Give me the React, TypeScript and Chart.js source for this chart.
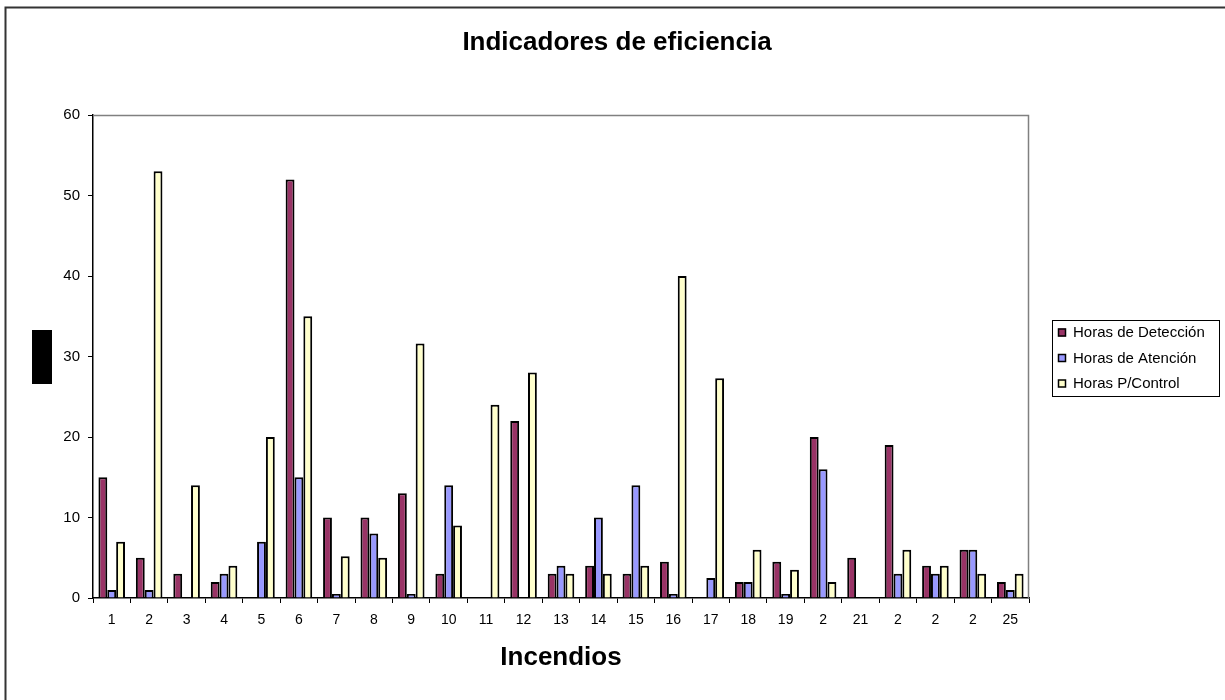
import React, { useEffect, useRef } from "react";
import { Chart, registerables } from "chart.js";

Chart.register(...registerables);

const categories = [
  "1", "2", "3", "4", "5", "6", "7", "8", "9", "10", "11", "12", "13",
  "14", "15", "16", "17", "18", "19", "2", "21", "2", "2", "2", "25",
];
const seriesNames = ["Horas de Detección", "Horas de Atención", "Horas P/Control"];
const seriesColors = ["#993366", "#9999FF", "#FFFFCC"];
const deteccion = [15, 5, 3, 2, 0, 52, 10, 10, 13, 3, 0, 22, 3, 4, 3, 4.5, 0, 2, 4.5, 20, 5, 19, 4, 6, 2];
const atencion = [1, 1, 0, 3, 7, 15, 0.5, 8, 0.5, 14, 0, 0, 4, 10, 14, 0.5, 2.5, 2, 0.5, 16, 0, 3, 3, 6, 1];
const control = [7, 53, 14, 4, 20, 35, 5.2, 5, 31.6, 9, 24, 28, 3, 3, 4, 40, 27.3, 6, 3.5, 2, 0, 6, 4, 3, 3];
const yMin = 0;
const yMax = 60;
const yStep = 10;
const chartTitle = "Indicadores de eficiencia";
const xTitle = "Incendios";

const FONT = "'Liberation Sans', Arial, Helvetica, sans-serif";

const decorPlugin = {
  id: "decor",
  afterDraw(chart: any) {
    const { ctx, chartArea: ca } = chart;
    ctx.save();
    // outer frame (left + top visible)
    ctx.strokeStyle = "#333333";
    ctx.lineWidth = 2;
    ctx.beginPath();
    ctx.moveTo(5.5, 700);
    ctx.lineTo(5.5, 7.5);
    ctx.lineTo(1225, 7.5);
    ctx.stroke();

    // plot area top/right border
    ctx.strokeStyle = "#808080";
    ctx.lineWidth = 1.5;
    ctx.beginPath();
    ctx.moveTo(ca.left, ca.top + 0.5);
    ctx.lineTo(ca.right - 0.5, ca.top + 0.5);
    ctx.lineTo(ca.right - 0.5, ca.bottom);
    ctx.stroke();

    // black block where the y-axis title sits
    ctx.fillStyle = "#000000";
    ctx.fillRect(32, 330, 20, 54);

    // legend
    ctx.strokeStyle = "#000000";
    ctx.lineWidth = 1;
    ctx.strokeRect(1052.5, 320.5, 167, 76);
    ctx.font = `15px ${FONT}`;
    ctx.textBaseline = "middle";
    ctx.textAlign = "left";
    chart.data.datasets.forEach((ds: any, i: number) => {
      const cy = 332.5 + i * 25.5;
      ctx.fillStyle = ds.backgroundColor;
      ctx.fillRect(1058, cy - 4, 8, 8);
      ctx.strokeStyle = "#000000";
      ctx.lineWidth = 1.5;
      ctx.strokeRect(1058.5, cy - 3.5, 7, 7);
      ctx.fillStyle = "#000000";
      ctx.fillText(ds.label, 1073, cy + 0.5);
    });
    ctx.restore();
  },
};

export default function App() {
  const ref = useRef<HTMLCanvasElement | null>(null);

  useEffect(() => {
    if (!ref.current) return;
    Chart.defaults.font.family = FONT;
    Chart.defaults.color = "#000000";
    const values = [deteccion, atencion, control];
    const chart = new Chart(ref.current, {
      type: "bar",
      data: {
        labels: categories,
        datasets: seriesNames.map((name, i) => ({
          label: name,
          data: values[i],
          backgroundColor: seriesColors[i],
          borderColor: "#000000",
          borderWidth: 2,
          categoryPercentage: 0.71,
          barPercentage: 1,
        })),
      },
      options: {
        responsive: false,
        animation: false,
        layout: { padding: { left: 9, right: 0, top: 0, bottom: 0 } },
        plugins: {
          legend: { display: false },
          tooltip: { enabled: false },
          title: {
            display: true,
            text: chartTitle,
            color: "#000000",
            font: { size: 26, weight: "bold", family: FONT },
            padding: { top: 27, bottom: 56.8 },
          },
        },
        scales: {
          x: {
            type: "category",
            offset: true,
            grid: {
              offset: true,
              drawOnChartArea: false,
              drawTicks: true,
              tickLength: 5,
              color: "#000000",
            },
            border: { display: true, color: "#000000", width: 1.5 },
            ticks: {
              autoSkip: false,
              maxRotation: 0,
              minRotation: 0,
              padding: 9,
              color: "#000000",
              font: { size: 14, family: FONT },
            },
            title: {
              display: true,
              text: xTitle,
              color: "#000000",
              font: { size: 26, weight: "bold", family: FONT },
              padding: { top: 0, bottom: 27 },
            },
            afterFit(scale: any) {
              scale.height = 102;
            },
          },
          y: {
            type: "linear",
            min: yMin,
            max: yMax,
            position: "left",
            grid: {
              drawOnChartArea: false,
              drawTicks: true,
              tickLength: 5,
              color: "#000000",
            },
            border: { display: true, color: "#000000", width: 1.5 },
            ticks: {
              stepSize: yStep,
              padding: 8,
              color: "#000000",
              font: { size: 15, family: FONT },
            },
            afterFit(scale: any) {
              scale.width = 84;
            },
          },
          yR: {
            type: "linear",
            position: "right",
            display: true,
            grid: { display: false, drawTicks: false },
            border: { display: false },
            ticks: { display: false },
            afterFit(scale: any) {
              scale.width = 196;
            },
          },
        },
      },
      plugins: [decorPlugin],
    });
    return () => chart.destroy();
  }, []);

  return (
    <div style={{ position: "absolute", left: 0, top: 0, width: 1225, height: 700, background: "#ffffff" }}>
      <canvas ref={ref} width={1225} height={700} style={{ display: "block" }} />
    </div>
  );
}
